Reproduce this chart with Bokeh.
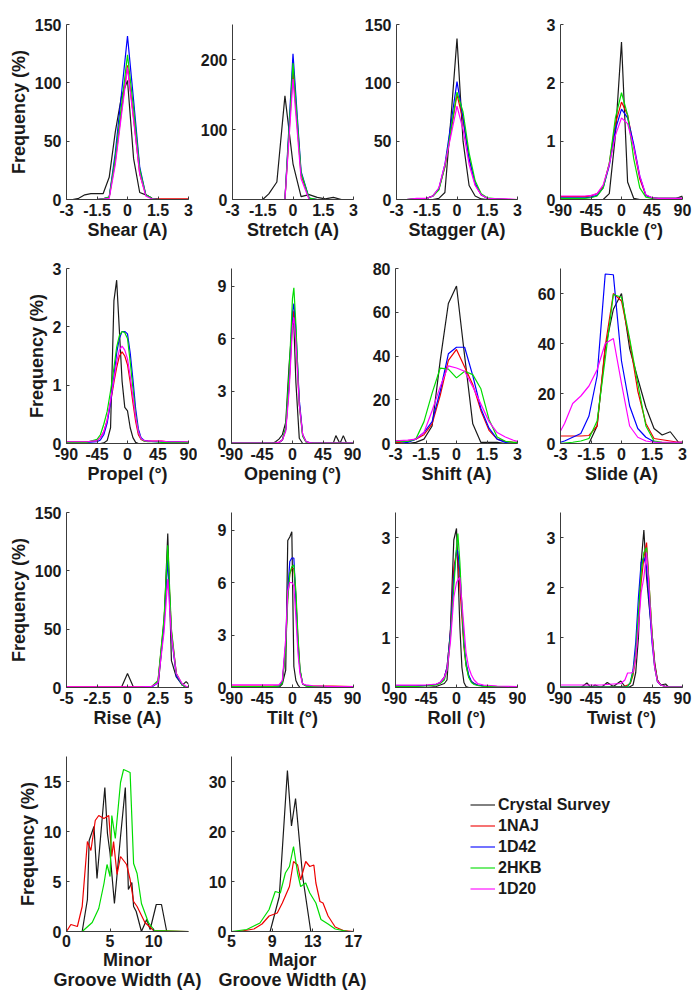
import numpy as np
from bokeh.plotting import figure
from bokeh.models import Range1d, FixedTicker, Legend, LegendItem, CustomJSTickFormatter
from bokeh.layouts import column, row
from bokeh.embed import file_html
from bokeh.resources import INLINE

SERIES = ["Crystal Survey", "1NAJ", "1D42", "2HKB", "1D20"]
COLORS = ["#1a1a1a", "#ee0000", "#0000ff", "#00dd00", "#ff00ff"]

# ---------------- Shear ----------------
SHEAR_X = [-3, -2.7, -2.4, -2.1, -1.8, -1.5, -1.2, -0.9, -0.6, -0.3, 0, 0.3, 0.6, 0.9, 1.2, 1.5, 1.8, 2.1, 2.4, 2.7, 3]
SHEAR_CRYSTAL = [0, 0, 1, 4, 5, 5, 5, 19, 58, 88, 102, 35, 6, 4, 1, 0, 0, 0, 0, 0, 0]
SHEAR_1NAJ = [0, 0, 0, 0, 0, 0, 0.5, 2, 33, 75, 115, 70, 22, 4, 1, 0.5, 0.5, 0.5, 0.5, 0.5, 0.5]
SHEAR_1D42 = [0, 0, 0, 0, 0, 0, 0.5, 2, 40, 90, 140, 85, 28, 4, 1, 0, 0, 0, 0, 0, 0]
SHEAR_2HKB = [0, 0, 0, 0, 0, 0, 0.5, 2, 36, 80, 124, 78, 26, 4, 1, 0, 0, 0, 0, 0, 0]
SHEAR_1D20 = [0, 0, 0, 0, 0, 0, 0.3, 1, 30, 72, 113, 68, 22, 3, 0.5, 0, 0, 0, 0, 0, 0]

# ---------------- Stretch ----------------
STRETCH_X = [-3, -2.5, -2, -1.5, -1.2, -0.8, -0.4, 0, 0.4, 0.8, 1.2, 1.6, 2.0, 2.4, 3]
STRETCH_CRYSTAL = [0, 0, 0, 0, 8, 25, 148, 51, 4, 7, 3, 1, 3, 0, 0]
STRETCH_1NAJ = [0, 0, 0, 0, 0, 0, 0, 185, 35, 1, 0, 0, 0, 0, 0]
STRETCH_1D42 = [0, 0, 0, 0, 0, 0, 0, 208, 40, 2, 0, 0, 0, 0, 0]
STRETCH_2HKB = [0, 0, 0, 0, 0, 0, 0, 195, 38, 2, 0, 0, 0, 0, 0]
STRETCH_1D20 = [0, 0, 0, 0, 0, 0, 0, 172, 30, 0, 0, 0, 0, 0, 0]

# ---------------- Stagger ----------------
STAGGER_X = [-3, -2.5, -2, -1.5, -1.2, -0.9, -0.6, -0.3, 0, 0.3, 0.6, 0.9, 1.2, 1.5, 2, 2.5, 3]
STAGGER_CRYSTAL = [0, 0, 0, 0, 0, 1, 6, 70, 138, 50, 12, 3, 0.5, 0, 0, 0, 0]
STAGGER_1NAJ = [0, 0, 0.5, 1, 3, 9, 28, 58, 90, 68, 35, 13, 4, 1, 0.5, 0, 0]
STAGGER_1D42 = [0, 0, 0.5, 1, 3, 9, 30, 65, 101, 70, 35, 14, 4, 1, 0.5, 0, 0]
STAGGER_2HKB = [0, 0, 0.5, 1, 3, 8, 28, 60, 92, 75, 40, 16, 5, 1.5, 0.5, 0, 0]
STAGGER_1D20 = [0, 0, 1, 1, 3, 10, 30, 55, 80, 60, 30, 12, 4, 1, 0.5, 0.5, 0]

# ---------------- Buckle ----------------
BUCKLE_X = [-90, -81, -72, -63, -54, -45, -36, -27, -18, -9, 0, 9, 18, 27, 36, 45, 54, 63, 72, 81, 90]
BUCKLE_CRYSTAL = [0, 0, 0, 0, 0, 0, 0, 0, 0.1, 1.1, 2.7, 0.3, 0.02, 0, 0, 0, 0, 0, 0, 0.02, 0.06]
BUCKLE_1NAJ = [0.05, 0.05, 0.05, 0.05, 0.05, 0.06, 0.1, 0.22, 0.62, 1.3, 1.67, 1.45, 0.9, 0.35, 0.07, 0.03, 0.02, 0.02, 0.02, 0.02, 0.02]
BUCKLE_1D42 = [0.03, 0.03, 0.03, 0.03, 0.03, 0.04, 0.07, 0.2, 0.58, 1.2, 1.55, 1.4, 0.95, 0.4, 0.07, 0.03, 0.02, 0.02, 0.02, 0.02, 0.02]
BUCKLE_2HKB = [0.02, 0.02, 0.02, 0.02, 0.02, 0.03, 0.06, 0.2, 0.62, 1.4, 1.83, 1.45, 0.7, 0.2, 0.04, 0.02, 0.02, 0.02, 0.02, 0.02, 0.02]
BUCKLE_1D20 = [0.06, 0.06, 0.06, 0.06, 0.06, 0.07, 0.1, 0.25, 0.6, 1.1, 1.4, 1.3, 0.9, 0.4, 0.08, 0.03, 0.02, 0.02, 0.02, 0.02, 0.02]

# ---------------- Propel ----------------
PROPEL_X = [-90, -75, -60, -45, -40, -35, -30, -25, -20, -16, -12, -8, -4, 0, 4, 8, 12, 16, 20, 25, 30, 40, 50, 60, 75, 90]
PROPEL_CRYSTAL = [0, 0, 0, 0, 0, 0.01, 0.05, 0.27, 2.45, 2.8, 1.94, 1.07, 0.62, 0.56, 0.27, 0.1, 0.02, 0, 0, 0, 0, 0, 0, 0, 0, 0]
PROPEL_1NAJ = [0.03, 0.03, 0.03, 0.05, 0.1, 0.2, 0.4, 0.7, 1.05, 1.3, 1.5, 1.57, 1.5, 1.35, 1.05, 0.7, 0.38, 0.15, 0.07, 0.04, 0.04, 0.04, 0.04, 0.03, 0.03, 0.02]
PROPEL_1D42 = [0.02, 0.02, 0.02, 0.03, 0.06, 0.15, 0.35, 0.7, 1.15, 1.55, 1.8, 1.92, 1.92, 1.88, 1.55, 1.1, 0.6, 0.25, 0.1, 0.05, 0.04, 0.03, 0.03, 0.03, 0.03, 0.02]
PROPEL_2HKB = [0.02, 0.02, 0.02, 0.07, 0.15, 0.33, 0.55, 0.9, 1.3, 1.65, 1.85, 1.92, 1.9, 1.8, 1.4, 0.95, 0.5, 0.2, 0.08, 0.04, 0.03, 0.03, 0.02, 0.02, 0.02, 0.02]
PROPEL_1D20 = [0.03, 0.03, 0.03, 0.05, 0.1, 0.2, 0.4, 0.75, 1.1, 1.4, 1.6, 1.67, 1.6, 1.45, 1.15, 0.8, 0.45, 0.2, 0.08, 0.05, 0.04, 0.04, 0.04, 0.03, 0.03, 0.03]

# ---------------- Opening ----------------
OPENING_X = [-90, -60, -30, -25, -20, -15, -10, -5, 0, 2, 5, 10, 15, 20, 25, 30, 45, 60, 64, 70, 75, 80, 90]
OPENING_CRYSTAL = [0, 0, 0, 0.1, 0.25, 0.5, 1.2, 4.5, 7.0, 6.8, 3.5, 0.3, 0, 0, 0, 0, 0, 0, 0.45, 0, 0.45, 0, 0]
OPENING_1NAJ = [0.03, 0.03, 0.03, 0.04, 0.06, 0.2, 0.8, 3.3, 7.0, 7.6, 6.0, 2.3, 0.5, 0.1, 0.05, 0.03, 0.03, 0.03, 0.03, 0.03, 0.03, 0.03, 0.03]
OPENING_1D42 = [0.02, 0.02, 0.02, 0.03, 0.05, 0.2, 0.8, 3.5, 7.5, 8.0, 6.5, 2.5, 0.5, 0.1, 0.05, 0.02, 0.02, 0.02, 0.02, 0.02, 0.02, 0.02, 0.02]
OPENING_2HKB = [0.02, 0.02, 0.02, 0.03, 0.05, 0.2, 0.9, 4.0, 8.3, 8.9, 6.8, 2.2, 0.4, 0.08, 0.04, 0.02, 0.02, 0.02, 0.02, 0.02, 0.02, 0.02, 0.02]
OPENING_1D20 = [0.03, 0.03, 0.03, 0.04, 0.06, 0.2, 0.7, 3.0, 6.7, 7.2, 5.8, 2.2, 0.5, 0.1, 0.05, 0.03, 0.03, 0.03, 0.03, 0.03, 0.03, 0.03, 0.03]

# ---------------- Shift ----------------
SHIFT_X = [-3, -2.8, -2.4, -2.0, -1.6, -1.2, -0.8, -0.4, 0, 0.4, 0.8, 1.2, 1.6, 2.0, 2.4, 2.8, 3]
SHIFT_CRYSTAL = [0, 0, 0, 0.5, 2, 8, 38, 64, 72, 40, 9, 0.5, 0.5, 0.5, 0, 0, 0]
SHIFT_1NAJ = [0.5, 0.5, 1, 2, 4, 9, 22, 38, 43, 35, 27, 15, 6, 2, 1, 0.5, 0.5]
SHIFT_1D42 = [0, 0, 0.5, 2, 5, 10, 24, 41, 44, 44, 31, 16, 7, 2, 0.5, 0, 0]
SHIFT_2HKB = [1, 1, 1, 2, 10, 23, 34.5, 34, 30, 33, 31.5, 25, 11, 3, 1, 0.5, 0.5]
SHIFT_1D20 = [1.3, 1.3, 1.5, 2, 5, 15, 26, 35.5, 34.5, 33, 26, 18, 10, 5, 3, 1.5, 1]

# ---------------- Slide ----------------
SLIDE_X = [-3, -2.8, -2.4, -2.0, -1.6, -1.2, -0.8, -0.4, 0, 0.4, 0.8, 1.2, 1.6, 2.0, 2.4, 2.8, 3]
SLIDE_CRYSTAL = [0, 0, 0, 0, 0, 7, 38, 53.7, 60, 38, 26, 14.5, 6, 3.4, 4.7, 0.5, 0.5]
SLIDE_1NAJ = [3, 3, 3, 3, 3.2, 7, 39, 60, 57, 41, 21, 8, 2, 1.5, 1, 0.5, 0.5]
SLIDE_1D42 = [0.5, 1, 2.5, 4, 11, 27, 67.8, 67.5, 33, 15, 6, 2.5, 0.7, 0.3, 0.2, 0.1, 0.1]
SLIDE_2HKB = [0, 0.2, 0.5, 1, 2, 9, 34, 59.6, 58.5, 42, 24, 7, 1, 0.5, 0.3, 0.2, 0.2]
SLIDE_1D20 = [5, 8, 16, 19, 23, 29.5, 40, 42, 24, 7, 2.5, 1, 0.5, 0.5, 0.5, 0.5, 0.5]

# ---------------- Rise ----------------
RISE_X = [-5, -2.5, -1, -0.5, 0, 0.5, 1, 2, 2.5, 3.0, 3.3, 3.6, 4.0, 4.5, 4.8, 5]
RISE_CRYSTAL = [0, 0, 0, 0, 12, 0, 0, 0, 0, 55, 132, 23, 9, 2, 5, 3]
RISE_1NAJ = [0.5, 0.5, 0.5, 0.5, 0.5, 0.5, 0.5, 1, 5, 58, 115, 48, 12, 2, 0.5, 0]
RISE_1D42 = [0, 0, 0, 0, 0, 0, 0, 0.5, 4, 55, 110, 45, 10, 2, 0.5, 0]
RISE_2HKB = [0, 0, 0, 0, 0, 0, 0, 1, 6, 60, 122, 50, 12, 2, 0.5, 0]
RISE_1D20 = [0.5, 0.5, 0.5, 0.5, 0.5, 0.5, 0.5, 1, 4, 48, 93, 45, 12, 3, 1, 0]

# ---------------- Tilt ----------------
TILT_X = [-90, -60, -30, -20, -15, -10, -7, -4, -1, 2, 5, 8, 11, 15, 20, 30, 60, 90]
TILT_CRYSTAL = [0, 0, 0, 0, 0.2, 1.0, 8.4, 8.6, 8.9, 1.2, 0.4, 0.15, 0, 0, 0, 0, 0, 0]
TILT_1NAJ = [0.08, 0.08, 0.08, 0.1, 0.3, 2.4, 5.2, 6.5, 6.8, 6.8, 5.2, 2.8, 1.0, 0.2, 0.1, 0.08, 0.08, 0.05]
TILT_1D42 = [0.05, 0.05, 0.05, 0.08, 0.3, 2.5, 5.5, 7.2, 7.4, 7.4, 5.0, 2.5, 1.0, 0.2, 0.1, 0.05, 0.05, 0.05]
TILT_2HKB = [0.05, 0.05, 0.05, 0.08, 0.25, 2.2, 5.0, 6.5, 6.9, 7.0, 5.5, 3.0, 1.1, 0.2, 0.08, 0.05, 0.05, 0.05]
TILT_1D20 = [0.15, 0.15, 0.15, 0.15, 0.4, 2.8, 5.5, 6.0, 6.0, 5.8, 4.0, 2.0, 0.8, 0.2, 0.15, 0.1, 0.05, 0.05]

# ---------------- Roll ----------------
ROLL_X = [-90, -60, -45, -30, -24, -18, -14, -9, -4, 0, 2, 5, 8, 11, 14, 18, 22, 26, 31, 40, 60, 90]
ROLL_CRYSTAL = [0, 0, 0, 0.02, 0.05, 0.08, 0.15, 1.15, 2.95, 3.18, 2.4, 1.2, 0.4, 0.1, 0.02, 0, 0, 0, 0, 0, 0, 0]
ROLL_1NAJ = [0.03, 0.03, 0.04, 0.06, 0.1, 0.2, 0.4, 1.1, 2.4, 2.71, 2.6, 2.0, 1.4, 0.8, 0.45, 0.22, 0.12, 0.08, 0.05, 0.03, 0.02, 0.01]
ROLL_1D42 = [0.03, 0.03, 0.04, 0.06, 0.1, 0.2, 0.4, 1.1, 2.2, 2.75, 2.72, 2.3, 1.6, 0.9, 0.5, 0.25, 0.12, 0.08, 0.05, 0.03, 0.02, 0.01]
ROLL_2HKB = [0.02, 0.02, 0.03, 0.05, 0.08, 0.15, 0.35, 1.0, 2.0, 2.8, 3.08, 2.5, 1.6, 0.85, 0.45, 0.2, 0.1, 0.06, 0.04, 0.02, 0.02, 0.01]
ROLL_1D20 = [0.05, 0.05, 0.05, 0.07, 0.1, 0.2, 0.35, 0.9, 1.8, 2.1, 2.15, 2.2, 1.7, 1.2, 0.7, 0.4, 0.25, 0.15, 0.08, 0.05, 0.03, 0.02]

# ---------------- Twist ----------------
TWIST_X = [-90, -70, -60, -51, -45, -39, -30, -21, -12, -1, 5, 9, 13, 17, 21, 25, 29, 33, 37, 41, 45, 49, 53, 58, 65, 70, 90]
TWIST_CRYSTAL = [0, 0, 0, 0.09, 0, 0.05, 0, 0.1, 0.02, 0.13, 0.02, 0, 0.02, 0.05, 0.3, 1.0, 2.5, 3.15, 2.2, 1.6, 1.08, 0.5, 0.15, 0.05, 0.07, 0, 0]
TWIST_1NAJ = [0.01, 0.01, 0.01, 0.01, 0.01, 0.01, 0.01, 0.01, 0.02, 0.02, 0.03, 0.05, 0.08, 0.25, 0.6, 1.3, 2.1, 2.6, 2.9, 2.0, 1.1, 0.45, 0.15, 0.05, 0.02, 0.01, 0.01]
TWIST_1D42 = [0.01, 0.01, 0.01, 0.01, 0.01, 0.01, 0.01, 0.01, 0.01, 0.01, 0.01, 0.02, 0.1, 0.35, 0.9, 1.8, 2.5, 2.6, 2.4, 1.7, 0.9, 0.4, 0.12, 0.05, 0.02, 0.01, 0.01]
TWIST_2HKB = [0.01, 0.01, 0.01, 0.01, 0.01, 0.01, 0.01, 0.01, 0.01, 0.01, 0.01, 0.02, 0.1, 0.3, 0.7, 1.5, 2.3, 2.7, 2.8, 2.0, 1.1, 0.4, 0.12, 0.05, 0.02, 0.01, 0.01]
TWIST_1D20 = [0.05, 0.05, 0.05, 0.05, 0.05, 0.05, 0.05, 0.06, 0.07, 0.08, 0.15, 0.29, 0.29, 0.3, 0.6, 1.2, 1.9, 2.2, 2.7, 1.9, 1.0, 0.4, 0.12, 0.05, 0.02, 0.01, 0.01]

# ---------------- Minor groove width ----------------
MINOR_CRYSTAL_X = [0, 1.8, 2.4, 2.6, 3.15, 3.5, 4.4, 4.7, 5.0, 5.5, 6.2, 6.75, 7.1, 7.5, 7.7, 8.0, 8.6, 9.2, 9.6, 10.3, 10.9, 11.5, 14]
MINOR_CRYSTAL_Y = [0, 0, 3.2, 9.1, 10.5, 5.3, 14.4, 9.8, 7.8, 2.8, 9.5, 14.4, 4.2, 4.9, 2.5, 2.0, 0, 1.2, 0.2, 2.7, 2.7, 0, 0]
MINOR_1NAJ_X = [0, 0.5, 1.25, 1.8, 2.4, 2.8, 3.3, 3.7, 4.3, 4.85, 5.2, 5.4, 5.8, 6.2, 6.9, 7.3, 7.7, 8.1, 9.0, 10.0, 14]
MINOR_1NAJ_Y = [0, 0.7, 0.5, 2.5, 9.0, 8.1, 11.1, 11.6, 11.3, 11.6, 7.5, 9.0, 5.7, 7.5, 6.7, 5.2, 3.0, 2.5, 0.9, 0.1, 0]
MINOR_2HKB_X = [0, 1.8, 2.95, 3.7, 4.3, 4.65, 5.0, 5.2, 5.6, 6.2, 6.55, 7.3, 7.7, 8.1, 8.6, 9.4, 10.1, 14]
MINOR_2HKB_Y = [0, 0, 0.9, 2.3, 4.8, 6.7, 5.5, 11.6, 9.3, 14.9, 16.2, 15.9, 6.8, 5.8, 2.8, 0.9, 0.1, 0]

# ---------------- Major groove width ----------------
MAJOR_CRYSTAL_X = [5, 8.8, 9.7, 10.5, 10.9, 11.3, 12.0, 12.8, 17]
MAJOR_CRYSTAL_Y = [0, 0, 7.0, 32.2, 21.1, 26.6, 11, 0, 0]
MAJOR_1NAJ_X = [5, 5.7, 7.2, 8.0, 8.7, 9.5, 10.0, 10.7, 11.1, 11.5, 11.8, 12.3, 12.7, 13.1, 13.3, 13.7, 14.0, 14.5, 15.2, 16.0, 17]
MAJOR_1NAJ_Y = [0, 0, 0.5, 1.5, 3.1, 3.7, 5.7, 9.0, 14.0, 13.3, 10.3, 14.0, 13.0, 13.3, 9.7, 6.0, 5.7, 3.1, 0.9, 0.2, 0]
MAJOR_2HKB_X = [5, 6.5, 7.2, 7.8, 8.7, 9.3, 9.8, 10.3, 10.7, 11.1, 11.5, 11.8, 12.3, 12.7, 13.3, 13.8, 14.5, 15.2, 16.5, 17]
MAJOR_2HKB_Y = [0, 0.4, 1.1, 1.7, 4.4, 8.0, 7.7, 11.7, 13.0, 17.0, 11.7, 9.0, 9.7, 7.7, 5.7, 2.4, 1.5, 0.5, 0, 0]

# ---------------- Axis ticks ----------------
TICKS_A = [-3, -1.5, 0, 1.5, 3]
TICKS_DEG = [-90, -45, 0, 45, 90]
TICKS_RISE = [-5, -2.5, 0, 2.5, 5]
TICKS_MINOR = [0, 5, 10]
TICKS_MAJOR = [5, 9, 13, 17]

FONT = "Liberation Sans"
TEXT_COLOR = "#1a1a1a"
AXIS_COLOR = "#3c3c3c"

# figure geometry (pixels): widths, left/right borders per column, heights per row
COL_W = [197, 164, 165, 167]
COL_L = [66, 34, 34, 34]
COL_R = [9, 8, 9, 11]
R4_W = [202, 165]
R4_L = [66, 29]
R4_R = [14, 14]
ROW_H = [244, 244, 244, 260]
ROW_B = [45, 45, 45, 61]
TOP = 24

tick_fmt = CustomJSTickFormatter(code="return String(tick);")


def make_panel(r, width, left, right, first, xr, xticks, yr, yticks, xlabel, series):
    p = figure(width=width, height=ROW_H[r],
               x_range=Range1d(*xr), y_range=Range1d(*yr),
               output_backend="svg", toolbar_location=None,
               min_border_left=left, min_border_right=right,
               min_border_top=TOP, min_border_bottom=ROW_B[r])
    p.outline_line_color = None
    p.grid.visible = False
    p.background_fill_color = "white"
    p.border_fill_color = "white"
    p.xaxis.ticker = FixedTicker(ticks=xticks)
    p.yaxis.ticker = FixedTicker(ticks=yticks)
    for ax in (p.xaxis[0], p.yaxis[0]):
        ax.formatter = tick_fmt
        ax.axis_line_color = AXIS_COLOR
        ax.axis_line_width = 1
        ax.major_tick_line_color = AXIS_COLOR
        ax.major_tick_in = 3
        ax.major_tick_out = 0
        ax.minor_tick_line_color = None
        ax.major_label_text_font = FONT
        ax.major_label_text_font_style = "bold"
        ax.major_label_text_font_size = "16px"
        ax.major_label_text_color = TEXT_COLOR
        ax.axis_label_text_font = FONT
        ax.axis_label_text_font_style = "bold"
        ax.axis_label_text_font_size = "18px"
        ax.axis_label_text_color = TEXT_COLOR
        ax.axis_label_text_line_height = 1.0
    p.xaxis.major_label_standoff = 4 if r < 3 else 3
    p.yaxis.major_label_standoff = 5
    p.xaxis.axis_label = xlabel
    p.xaxis.axis_label_standoff = 1 if r < 3 else 0
    if first:
        p.yaxis.axis_label = "Frequency (%)"
        p.yaxis.axis_label_standoff = 3
    for (xs, ys, color) in series:
        p.line(xs, ys, line_color=color, line_width=1.2)
    return p


def five(xs, a, b, cc, d, e):
    return [(xs, a, COLORS[0]), (xs, b, COLORS[1]), (xs, cc, COLORS[2]), (xs, d, COLORS[3]), (xs, e, COLORS[4])]


def grid_panel(r, c, *args):
    return make_panel(r, COL_W[c], COL_L[c], COL_R[c], c == 0, *args)


p1 = grid_panel(0, 0, (-3, 3), TICKS_A, (0, 150), [0, 50, 100, 150], "Shear (A)",
                five(SHEAR_X, SHEAR_CRYSTAL, SHEAR_1NAJ, SHEAR_1D42, SHEAR_2HKB, SHEAR_1D20))
p2 = grid_panel(0, 1, (-3, 3), TICKS_A, (0, 250), [0, 100, 200], "Stretch (A)",
                five(STRETCH_X, STRETCH_CRYSTAL, STRETCH_1NAJ, STRETCH_1D42, STRETCH_2HKB, STRETCH_1D20))
p3 = grid_panel(0, 2, (-3, 3), TICKS_A, (0, 150), [0, 50, 100, 150], "Stagger (A)",
                five(STAGGER_X, STAGGER_CRYSTAL, STAGGER_1NAJ, STAGGER_1D42, STAGGER_2HKB, STAGGER_1D20))
p4 = grid_panel(0, 3, (-90, 90), TICKS_DEG, (0, 3), [0, 1, 2, 3], "Buckle (°)",
                five(BUCKLE_X, BUCKLE_CRYSTAL, BUCKLE_1NAJ, BUCKLE_1D42, BUCKLE_2HKB, BUCKLE_1D20))

p5 = grid_panel(1, 0, (-90, 90), TICKS_DEG, (0, 3), [0, 1, 2, 3], "Propel (°)",
                five(PROPEL_X, PROPEL_CRYSTAL, PROPEL_1NAJ, PROPEL_1D42, PROPEL_2HKB, PROPEL_1D20))
p6 = grid_panel(1, 1, (-90, 90), TICKS_DEG, (0, 10), [0, 3, 6, 9], "Opening (°)",
                five(OPENING_X, OPENING_CRYSTAL, OPENING_1NAJ, OPENING_1D42, OPENING_2HKB, OPENING_1D20))
p7 = grid_panel(1, 2, (-3, 3), TICKS_A, (0, 80), [0, 20, 40, 60, 80], "Shift (A)",
                five(SHIFT_X, SHIFT_CRYSTAL, SHIFT_1NAJ, SHIFT_1D42, SHIFT_2HKB, SHIFT_1D20))
p8 = grid_panel(1, 3, (-3, 3), TICKS_A, (0, 70), [0, 20, 40, 60], "Slide (A)",
                five(SLIDE_X, SLIDE_CRYSTAL, SLIDE_1NAJ, SLIDE_1D42, SLIDE_2HKB, SLIDE_1D20))

p9 = grid_panel(2, 0, (-5, 5), TICKS_RISE, (0, 150), [0, 50, 100, 150], "Rise (A)",
                five(RISE_X, RISE_CRYSTAL, RISE_1NAJ, RISE_1D42, RISE_2HKB, RISE_1D20))
p10 = grid_panel(2, 1, (-90, 90), TICKS_DEG, (0, 10), [0, 3, 6, 9], "Tilt (°)",
                 five(TILT_X, TILT_CRYSTAL, TILT_1NAJ, TILT_1D42, TILT_2HKB, TILT_1D20))
p11 = grid_panel(2, 2, (-90, 90), TICKS_DEG, (0, 3.5), [0, 1, 2, 3], "Roll (°)",
                 five(ROLL_X, ROLL_CRYSTAL, ROLL_1NAJ, ROLL_1D42, ROLL_2HKB, ROLL_1D20))
p12 = grid_panel(2, 3, (-90, 90), TICKS_DEG, (0, 3.5), [0, 1, 2, 3], "Twist (°)",
                 five(TWIST_X, TWIST_CRYSTAL, TWIST_1NAJ, TWIST_1D42, TWIST_2HKB, TWIST_1D20))

p13 = make_panel(3, R4_W[0], R4_L[0], R4_R[0], True, (0, 14), TICKS_MINOR, (0, 17.5), [0, 5, 10, 15],
                 "Minor\nGroove Width (A)",
                 [(MINOR_CRYSTAL_X, MINOR_CRYSTAL_Y, COLORS[0]),
                  (MINOR_1NAJ_X, MINOR_1NAJ_Y, COLORS[1]),
                  (MINOR_2HKB_X, MINOR_2HKB_Y, COLORS[3])])
p14 = make_panel(3, R4_W[1], R4_L[1], R4_R[1], False, (5, 17), TICKS_MAJOR, (0, 35), [0, 10, 20, 30],
                 "Major\nGroove Width (A)",
                 [(MAJOR_CRYSTAL_X, MAJOR_CRYSTAL_Y, COLORS[0]),
                  (MAJOR_1NAJ_X, MAJOR_1NAJ_Y, COLORS[1]),
                  (MAJOR_2HKB_X, MAJOR_2HKB_Y, COLORS[3])])

# ---------------- Legend panel ----------------
LEG_W = 693 - R4_W[0] - R4_W[1]
pl = figure(width=LEG_W, height=ROW_H[3], x_range=Range1d(0, 1), y_range=Range1d(0, 1),
            output_backend="svg", toolbar_location=None,
            x_axis_location=None, y_axis_location=None,
            min_border_left=0, min_border_right=0, min_border_top=TOP, min_border_bottom=ROW_B[3])
pl.outline_line_color = None
pl.grid.visible = False
items = []
for name, color in zip(SERIES, COLORS):
    # legend proxy: a single undefined point, nothing is drawn in the frame
    rr = pl.line(np.array([np.nan]), np.array([np.nan]), line_color=color, line_width=2, line_alpha=0.55)
    items.append(LegendItem(label=name, renderers=[rr]))
legend = Legend(items=items, location=(103, 32),
                label_text_font=FONT, label_text_font_style="bold",
                label_text_font_size="16px", label_text_color=TEXT_COLOR,
                glyph_width=25, glyph_height=21, label_height=21,
                spacing=0, padding=0, margin=0, label_standoff=3,
                border_line_color=None, background_fill_alpha=0)
pl.add_layout(legend)

layout = column(
    row(p1, p2, p3, p4),
    row(p5, p6, p7, p8),
    row(p9, p10, p11, p12),
    row(p13, p14, pl),
)

with open("out.html", "w") as f:
    f.write(file_html(layout, INLINE))
